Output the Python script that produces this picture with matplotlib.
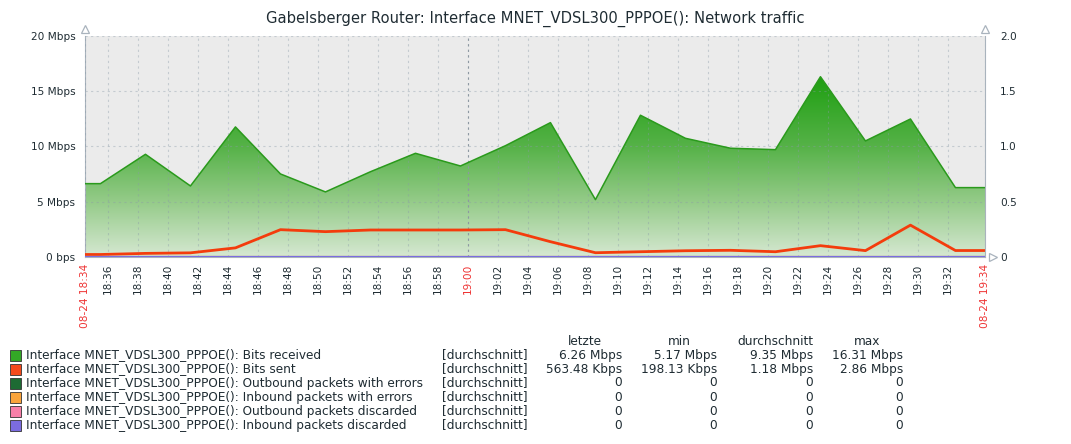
import matplotlib.pyplot as plt
import numpy as np
from matplotlib.colors import LinearSegmentedColormap
from matplotlib.patches import Polygon, Rectangle

# minutes after 18:34:00
t_start, t_end = 0.47, 60.47
sample_minutes = [1.5, 4.5, 7.5, 10.5, 13.5, 16.5, 19.5, 22.5, 25.5, 28.5,
                  31.5, 34.5, 37.5, 40.5, 43.5, 46.5, 49.5, 52.5, 55.5, 58.5]
bits_received = [6.62, 9.28, 6.41, 11.76, 7.50, 5.87, 7.70, 9.37, 8.22, 10.06,
                 12.15, 5.17, 12.82, 10.73, 9.83, 9.70, 16.31, 10.49, 12.48, 6.26]  # Mbps
bits_sent = [0.20, 0.30, 0.35, 0.80, 2.45, 2.27, 2.42, 2.42, 2.42, 2.45,
             1.36, 0.36, 0.45, 0.54, 0.58, 0.45, 1.00, 0.55, 2.86, 0.56]  # Mbps
zero_series = [0] * 20

grid_ticks = list(range(2, 60, 2))
grid_labels = ['18:36', '18:38', '18:40', '18:42', '18:44', '18:46', '18:48', '18:50',
               '18:52', '18:54', '18:56', '18:58', '19:00', '19:02', '19:04', '19:06',
               '19:08', '19:10', '19:12', '19:14', '19:16', '19:18', '19:20', '19:22',
               '19:24', '19:26', '19:28', '19:30', '19:32']
edge_labels = ['08-24 18:34', '08-24 19:34']
left_ticks = [0, 5, 10, 15, 20]
left_labels = ['0 bps', '5 Mbps', '10 Mbps', '15 Mbps', '20 Mbps']
right_ticks = [0, 0.5, 1.0, 1.5, 2.0]
right_labels = ['0', '0.5', '1.0', '1.5', '2.0']

legend_names = ['Interface MNET_VDSL300_PPPOE(): Bits received',
                'Interface MNET_VDSL300_PPPOE(): Bits sent',
                'Interface MNET_VDSL300_PPPOE(): Outbound packets with errors',
                'Interface MNET_VDSL300_PPPOE(): Inbound packets with errors',
                'Interface MNET_VDSL300_PPPOE(): Outbound packets discarded',
                'Interface MNET_VDSL300_PPPOE(): Inbound packets discarded']
legend_colors = ['#33a826', '#f44a1c', '#1d6b33', '#f9a43c', '#f77fa8', '#7b6ce0']
col_headers = ['letzte', 'min', 'durchschnitt', 'max']
col_last = ['6.26 Mbps', '563.48 Kbps', '0', '0', '0', '0']
col_min = ['5.17 Mbps', '198.13 Kbps', '0', '0', '0', '0']
col_avg = ['9.35 Mbps', '1.18 Mbps', '0', '0', '0', '0']
col_max = ['16.31 Mbps', '2.86 Mbps', '0', '0', '0', '0']

W, H = 1071, 444
TXT = '#1f2c33'
AXC = '#a9b3bd'
RED = '#ee3333'

fig = plt.figure(figsize=(W / 100, H / 100), dpi=100)
ax = fig.add_axes([85 / W, 1 - 256.7 / H, 900 / W, 220.7 / H])
ax.set_facecolor('#ebebeb')

# extend first/last sample to the graph edges
xs = np.r_[t_start, sample_minutes, t_end]
rx = np.r_[bits_received[0], bits_received, bits_received[-1]]
sx = np.r_[bits_sent[0], bits_sent, bits_sent[-1]]

cmap = LinearSegmentedColormap.from_list('g', [(0, '#d6e8d2'), (0.25, '#95cb89'),
                                               (0.5, '#56b248'), (0.8, '#21a014'),
                                               (1, '#159a05')])
grad = np.linspace(0, 1, 256).reshape(-1, 1)
im = ax.imshow(grad, extent=[t_start, t_end, 0, 20], origin='lower', aspect='auto',
               cmap=cmap, zorder=1, interpolation='bilinear')
poly = Polygon(np.column_stack([np.r_[xs, t_end, t_start], np.r_[rx, 0, 0]]),
               closed=True, facecolor='none', edgecolor='none')
ax.add_patch(poly)
im.set_clip_path(poly)
ax.plot(xs, rx, color='#2a9a1c', lw=1.1, zorder=3)
ax.plot(xs, sx, color='#f43c0c', lw=2, zorder=3)

ax.set_xlim(t_start, t_end)
ax.set_ylim(0, 20)
ax.set_xticks([t_start] + grid_ticks + [t_end])
ax.set_xticklabels([edge_labels[0]] + grid_labels + [edge_labels[1]],
                   rotation=90, fontsize=7.6, color=TXT)
for lab in ax.get_xticklabels():
    if lab.get_text() in ('19:00',) or lab.get_text().startswith('08-24'):
        lab.set_color(RED)
ax.set_yticks(left_ticks)
ax.set_yticklabels(left_labels, fontsize=7.6, color=TXT)
ax.tick_params(axis='y', length=0, pad=7)
ax.tick_params(axis='x', length=0, pad=5)
ax.set_axisbelow(False)
ax.grid(True, color='#8a9aa8', alpha=0.4, lw=0.8, ls=(0, (2, 3)))
ax.axvline(26, color='#8d98a2', lw=0.8, ls=(0, (2, 3)), zorder=2.6)
for s in ('top', 'right'):
    ax.spines[s].set_visible(False)
for s in ('left', 'bottom'):
    ax.spines[s].set_color(AXC)

ax2 = ax.twinx()
ax2.set_ylim(0, 2)
ax2.set_yticks(right_ticks)
ax2.set_yticklabels(right_labels, fontsize=7.6, color=TXT)
ax2.tick_params(length=0, pad=11)
for s in ('top', 'left', 'bottom'):
    ax2.spines[s].set_visible(False)
ax2.spines['right'].set_color(AXC)
for c in legend_colors[2:]:
    ax2.plot(xs, np.r_[0, zero_series, 0], color=c, lw=1.5, zorder=3)

# axis arrows
ax.plot([t_start], [20.65], marker='^', ms=6, mfc='white', mec=AXC, mew=0.9, clip_on=False)
ax.plot([t_end], [20.65], marker='^', ms=6, mfc='white', mec=AXC, mew=0.9, clip_on=False)
ax.plot([t_end + 0.5], [0], marker='>', ms=6, mfc='white', mec=AXC, mew=0.9, clip_on=False)

fig.text(535 / W, 1 - 19 / H, 'Gabelsberger Router: Interface MNET_VDSL300_PPPOE(): Network traffic',
         ha='center', va='center', fontsize=10.6, color=TXT)

# legend table
FS = 8.75
rows_y = [355, 369, 383, 397, 411, 425]
for x, h in zip([585, 679, 775, 867], col_headers):
    fig.text(x / W, 1 - 341 / H, h, ha='center', va='center', fontsize=FS, color=TXT)
for i, y in enumerate(rows_y):
    fig.add_artist(Rectangle((10 / W, 1 - (y + 5.5) / H), 11 / W, 11 / H,
                             transform=fig.transFigure, facecolor=legend_colors[i],
                             edgecolor='#333333', lw=0.6))
    fig.text(26 / W, 1 - y / H, legend_names[i], ha='left', va='center', fontsize=FS, color=TXT)
    fig.text(528 / W, 1 - y / H, '[durchschnitt]', ha='right', va='center', fontsize=FS, color=TXT)
    for x, col in zip([622, 717, 813, 903], [col_last, col_min, col_avg, col_max]):
        fig.text(x / W, 1 - y / H, col[i], ha='right', va='center', fontsize=FS, color=TXT)

fig.savefig('out.png', dpi=100, facecolor='white')
